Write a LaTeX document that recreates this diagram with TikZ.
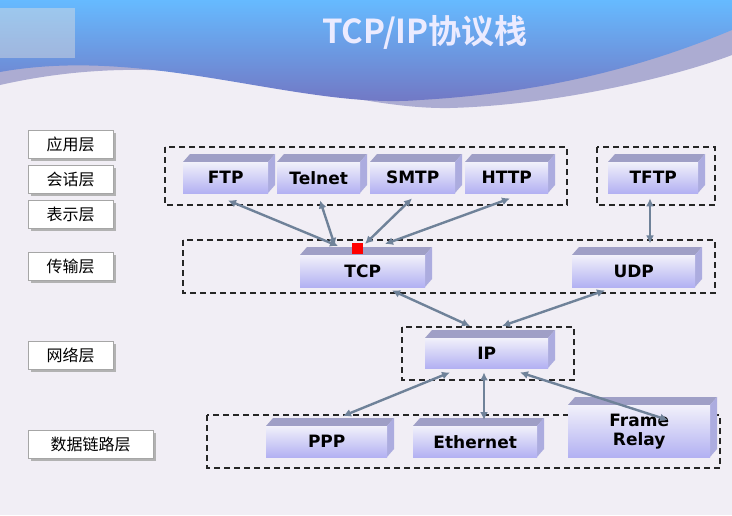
\documentclass[tikz,border=0pt]{standalone}
\usepackage{fontspec}
\setmainfont{DejaVu Sans}
\newfontfamily\cjk{Noto Sans CJK SC}[BoldFont=* Bold]
\usetikzlibrary{calc,arrows.meta}
\definecolor{bg}{HTML}{F1EEF5}
\definecolor{arr}{HTML}{6F8299}
\begin{document}
\begin{tikzpicture}[x=1pt,y=-1pt,
  box/.style={draw=none,fill=none,font=\bfseries\fontsize{17}{21}\selectfont,inner sep=0pt,anchor=north west,align=center},
  lay/.style={draw=gray!70,fill=white,anchor=north west,minimum width=85pt,minimum height=28pt,font=\cjk\fontsize{16}{18}\selectfont,inner sep=0pt},
  grp/.style={draw=black!85,dash pattern=on 6pt off 4pt,line width=1.3pt},
  link/.style={draw=arr,line width=2.4pt,{Latex[length=8pt,width=8pt]}-{Latex[length=8pt,width=8pt]}}]
\definecolor{boxfill}{HTML}{D2D0F0}
\fill[bg] (0,0) rectangle (732,515);
\useasboundingbox (0,0) rectangle (732,515);
% header
\fill[blue!30!gray!50] (0,85) .. controls (200,40) and (330,110) .. (450,108) .. controls (560,105) and (680,75) .. (732,55) -- (732,0) -- (0,0) -- cycle;
\shade[top color=blue!45!cyan!60,bottom color=blue!55!black!55] (0,72) .. controls (150,45) and (300,110) .. (420,100) .. controls (560,92) and (660,60) .. (732,30) -- (732,0) -- (0,0) -- cycle;
\fill[white!75!gray,opacity=0.45] (0,8) rectangle (75,58);
\node[text=white!92!blue,font=\cjk\bfseries\fontsize{33}{36}\selectfont] (title) at (425,32) {TCP/IP协议栈};
% layer labels
\foreach \n/\t/\y/\w in {L1/应用层/130/85,L2/会话层/165/85,L3/表示层/200/85,L4/传输层/252/85,L5/网络层/341/85,L6/数据链路层/430/125}{
  \fill[gray!60] (31,\y+3) rectangle ++(\w,28);
  \node[lay,minimum width=\w pt] (\n) at (28,\y) {\t};
}
% groups
\draw[grp] (165,147) rectangle (567,205);
\draw[grp] (597,147) rectangle (715,205);
\draw[grp] (183,240) rectangle (715,293);
\draw[grp] (402,327) rectangle (574,380);
\draw[grp] (207,415) rectangle (720,468);
% 3d boxes
\newcommand{\tdbox}[6]{% name,x,y,w,h,text
  \fill[gray!75!blue!60] (#2,#3) -- ++(7,-8) -- ++(#4,0) -- ++(-7,8) -- cycle;
  \fill[gray!55!blue!45] (#2+#4,#3) -- ++(7,-8) -- ++(0,#5) -- ++(-7,8) -- cycle;
  \shade[top color=white!70!boxfill,bottom color=boxfill!85!blue] (#2,#3) rectangle ++(#4,#5);
  \node[box,minimum width=#4 pt,minimum height=#5 pt] (#1) at (#2,#3) {#6};}
\tdbox{ftp}{183}{162}{85}{31}{FTP}
\tdbox{telnet}{277}{162}{83}{31}{Telnet}
\tdbox{smtp}{370}{162}{85}{31}{SMTP}
\tdbox{http}{465}{162}{83}{31}{HTTP}
\tdbox{tftp}{608}{162}{90}{31}{TFTP}
\tdbox{tcp}{300}{255}{125}{32}{TCP}
\tdbox{udp}{572}{255}{123}{32}{UDP}
\tdbox{ip}{425}{338}{123}{30}{IP}
\tdbox{ppp}{266}{426}{121}{31}{PPP}
\tdbox{eth}{413}{426}{124}{31}{Ethernet}
\tdbox{fr}{568}{405}{142}{52}{Frame\\[-2pt]Relay}
\fill[red] (352,243) rectangle (363,254);
% arrows
\draw[link] ($(ftp.south west)+(45,7)$) -- ($(tcp.north west)+(38,-9)$);
\draw[link] ($(telnet.south west)+(43,7)$) -- ($(tcp.north west)+(35,-9)$);
\draw[link] ($(smtp.south west)+(42,5)$) -- ($(tcp.north west)+(65,-11)$);
\draw[link] ($(http.south west)+(45,5)$) -- ($(tcp.north west)+(85,-11)$);
\draw[link] ($(tftp.south west)+(42,5)$) -- ($(tftp.south west)+(42,50)$);
\draw[link] ($(tcp.south west)+(92,3)$) -- ($(ip.north west)+(45,-12)$);
\draw[link] ($(udp.south west)+(33,3)$) -- ($(ip.north west)+(77,-12)$);
\draw[link] ($(ip.south west)+(25,4)$) -- ($(ppp.north west)+(77,-10)$);
\draw[link] ($(ip.south west)+(59,4)$) -- ($(eth.north west)+(71,-6)$);
\draw[link] ($(ip.south west)+(95,4)$) -- ($(fr.north west)+(100,15)$);
\end{tikzpicture}
\end{document}
